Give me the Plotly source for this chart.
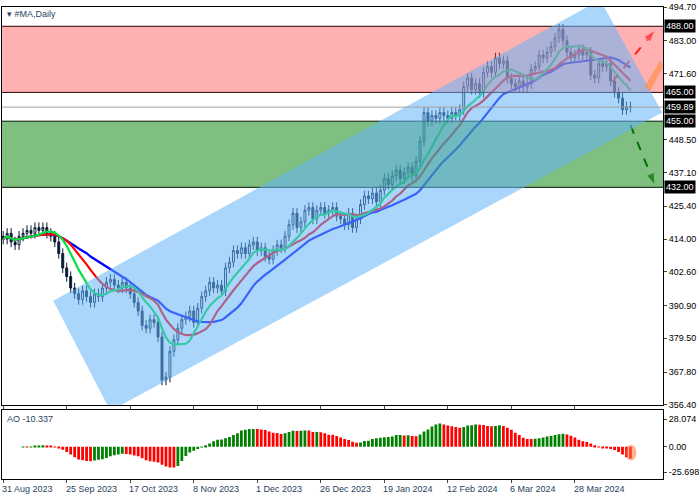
import numpy as np
import pandas as pd
import plotly.graph_objects as go
from plotly.subplots import make_subplots

# daily closes, bar index 0 = 31 Aug 2023
closes = [414, 416, 413, 412, 415, 416, 417, 416, 418, 417, 418, 416, 415, 413, 409, 404,
          401, 397, 395, 393, 396, 394, 392, 395, 394, 397, 399, 400, 398, 397, 399, 397,
          395, 392, 389, 384, 383, 386, 385, 380, 365, 366, 375, 379, 383, 386, 387, 389,
          385, 390, 394, 396, 399, 397, 398, 396, 404, 406, 410, 409, 411, 409, 412, 413,
          410, 411, 408, 407, 410, 412, 411, 415, 419, 423, 418, 420, 424, 425, 421, 424,
          425, 423, 424, 425, 422, 421, 419, 423, 418, 421, 426, 429, 428, 430, 427, 431,
          435, 433, 436, 438, 435, 437, 439, 436, 441, 448, 458, 455, 457, 456, 458, 457,
          456, 458, 457, 459, 467, 470, 466, 468, 465, 472, 474, 472, 477, 475, 476, 470,
          468, 467, 469, 467, 468, 473, 474, 478, 477, 479, 481, 484, 487, 483, 479, 477,
          478, 480, 478, 479, 471, 470, 475, 474, 475, 469, 465, 463, 459, 460, 459.89]
first_open = 415
wick = 1.8

tick_pos = [0, 16, 32, 48, 64, 80, 96, 112, 128, 144]
tick_text = ["31 Aug 2023", "25 Sep 2023", "17 Oct 2023", "8 Nov 2023", "1 Dec 2023",
             "26 Dec 2023", "19 Jan 2024", "12 Feb 2024", "6 Mar 2024", "28 Mar 2024"]
price_ticks = [494.70, 483.00, 471.60, 448.50, 437.10, 425.40, 414.00, 402.60, 390.90,
               379.50, 367.80, 356.40]
levels = [488.00, 465.00, 455.00, 432.00]
last_price = 459.89
ao_ticks = [28.074, 0.00, -25.698]
ao_label = "AO -10.337"

# channel corners (bar index, price)
chan_x = [12.6, 150.4, 166.0, 27.0]
chan_y = [392.6, 497.2, 458.0, 354.3]
up_arrow = ([153.4, 164.2], [468.6, 486.7])
down_arrow = ([158.0, 164.2], [453.6, 432.7])

c = pd.Series(closes, dtype=float)
o = c.shift(1).fillna(first_open)
h = np.maximum(o, c) + wick
l = np.minimum(o, c) - wick
x = np.arange(len(c))

fig = make_subplots(rows=2, cols=1, shared_xaxes=True, row_heights=[0.853, 0.147],
                    vertical_spacing=0.012)

fig.add_trace(go.Candlestick(x=x, open=o, high=h, low=l, close=c,
                             increasing=dict(fillcolor="white", line=dict(color="#0a1a33", width=1)),
                             decreasing=dict(fillcolor="#0a1a33", line=dict(color="#0a1a33", width=1)),
                             whiskerwidth=0, showlegend=False), row=1, col=1)

for n, col in [(21, "#0000ff"), (13, "#ff0000"), (8, "#00e040")]:
    fig.add_trace(go.Scatter(x=x, y=c.rolling(n, min_periods=1).mean(), mode="lines",
                             line=dict(color=col, width=2.2), showlegend=False), row=1, col=1)

ao = c.rolling(5, min_periods=1).mean() - c.rolling(34, min_periods=1).mean()
ao_col = ["#008000" if i == 0 or ao[i] >= ao[i - 1] else "#ff0000" for i in range(len(ao))]
fig.add_trace(go.Bar(x=x, y=ao, marker_color=ao_col, marker_line_width=0, width=0.7,
                     showlegend=False), row=2, col=1)

# zones and channel
fig.add_shape(type="rect", x0=-1, x1=170, y0=levels[1], y1=levels[0], xref="x", yref="y",
              fillcolor="rgba(255,80,80,0.45)", line=dict(color="#300000", width=1), layer="above")
fig.add_shape(type="rect", x0=-1, x1=170, y0=levels[3], y1=levels[2], xref="x", yref="y",
              fillcolor="rgba(0,128,0,0.5)", line=dict(color="#001800", width=1), layer="above")
path = "M " + " L ".join(f"{a},{b}" for a, b in zip(chan_x, chan_y)) + " Z"
fig.add_shape(type="path", path=path, xref="x", yref="y", fillcolor="rgba(100,180,250,0.55)",
              line=dict(width=0), layer="above")
fig.add_hline(y=last_price, line=dict(color="#a0a0a0", width=1), row=1, col=1)
fig.add_shape(type="path", path="M 161.5,467 L 165.5,476 L 166.2,474 L 163,465.5 Z",
              xref="x", yref="y", fillcolor="rgba(255,140,60,0.6)", line=dict(width=0), layer="above")

for (ax_, ay_), col in [(up_arrow, "#ff0000"), (down_arrow, "#006400")]:
    fig.add_trace(go.Scatter(x=ax_, y=ay_, mode="lines+markers",
                             line=dict(color=col, width=2, dash="dash"),
                             marker=dict(symbol="arrow", size=[0, 13], color=col, angleref="previous"),
                             showlegend=False, cliponaxis=False), row=1, col=1)

fig.add_shape(type="circle", x0=156.8, x1=159.5, y0=-14, y1=2, xref="x2", yref="y2",
              fillcolor="rgba(255,120,60,0.55)", line=dict(width=0))

for v in levels + [last_price]:
    fig.add_annotation(x=1.0, xref="paper", y=v, yref="y", text=f"{v:.2f}", showarrow=False,
                       xanchor="left", bgcolor="black", font=dict(color="white", size=9),
                       borderpad=1, xshift=1)
fig.add_annotation(x=0.005, xref="paper", y=1.0, yref="paper", text="▾ #MA,Daily",
                   showarrow=False, xanchor="left", yanchor="top", font=dict(size=9))
fig.add_annotation(x=0.005, xref="paper", y=0.143, yref="paper", text=ao_label,
                   showarrow=False, xanchor="left", yanchor="top", font=dict(size=9))
# date labels sit to the right of their tick, as in the terminal
for p, t in zip(tick_pos, tick_text):
    fig.add_annotation(x=p, xref="x2", y=0, yref="paper", text=t, showarrow=False,
                       xanchor="left", yanchor="top", yshift=-3, xshift=-3, font=dict(size=9))

ax_style = dict(showgrid=False, zeroline=False, showline=True, linecolor="black", mirror=True,
                ticks="outside", ticklen=3, tickfont=dict(size=9, color="black"), automargin=False)
fig.update_xaxes(range=[-0.3, 166.2], rangeslider_visible=False, tickvals=tick_pos,
                 showticklabels=False, **ax_style)
fig.update_yaxes(side="right", **ax_style)
fig.update_yaxes(range=[356.4, 494.7], tickvals=price_ticks,
                 ticktext=[f"{v:.2f}" for v in price_ticks], row=1, col=1)
fig.update_yaxes(range=[-32.7, 37], tickvals=ao_ticks,
                 ticktext=[f"{v:.3f}" if v else "0.00" for v in ao_ticks], row=2, col=1)

fig.update_layout(width=700, height=500,
                  margin=dict(l=2, r=37, t=7, b=21, autoexpand=False),
                  plot_bgcolor="white", paper_bgcolor="white",
                  font=dict(family="Liberation Sans", size=9), bargap=0.2)

fig.write_html("out.html", config={"displayModeBar": False},
               post_script="document.body.style.margin='0';document.body.style.overflow='hidden';")
